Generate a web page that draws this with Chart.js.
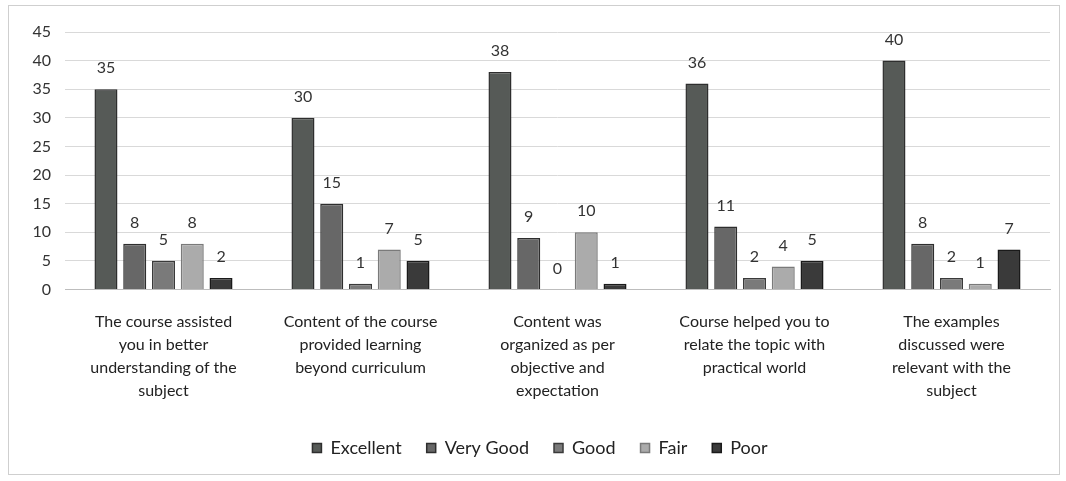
<!DOCTYPE html>
<html>
<head>
<meta charset="utf-8">
<script src="https://cdn.jsdelivr.net/npm/chart.js@4/dist/chart.umd.min.js"></script>
<style>
html,body{margin:0;padding:0;background:#fff;}
#wrap{position:relative;width:1066px;height:481px;}
</style>
</head>
<body>
<div id="wrap"><canvas id="c" width="1066" height="481"></canvas></div>
<script>
const categories = [
  ["The course assisted","you in better","understanding of the","subject"],
  ["Content of the course","provided learning","beyond curriculum"],
  ["Content was","organized as per","objective and","expectation"],
  ["Course helped you to","relate the topic with","practical world"],
  ["The examples","discussed were","relevant with the","subject"]
];
const seriesNames = ["Excellent","Very Good","Good","Fair","Poor"];
const excellent = [35, 30, 38, 36, 40];
const veryGood  = [8, 15, 9, 11, 8];
const good      = [5, 1, 0, 2, 2];
const fair      = [8, 7, 10, 4, 1];
const poor      = [2, 5, 1, 5, 7];
const yTicks = [0,5,10,15,20,25,30,35,40,45];

const fills   = ["#565a57","#676767","#7a7a7a","#ababab","#3a3a3a"];
const borders = ["#2e2e2e","#2e2e2e","#3a3a3a","#7a7a7a","#1a1a1a"];
const values = [excellent, veryGood, good, fair, poor];

const FONT = "Lato, 'Open Sans', sans-serif";

const frame = {
  id:'frame',
  beforeDraw(chart){
    const ctx = chart.ctx;
    ctx.save();
    ctx.fillStyle = '#fff';
    ctx.fillRect(0,0,chart.width,chart.height);
    ctx.strokeStyle = '#cfcfcf';
    ctx.lineWidth = 1;
    ctx.strokeRect(8.5,5.5,1051,469);
    ctx.restore();
  }
};

const valueLabels = {
  id:'valueLabels',
  afterDatasetsDraw(chart){
    const ctx = chart.ctx;
    ctx.save();
    ctx.font = "16px " + FONT;
    ctx.fillStyle = '#333';
    ctx.textAlign = 'center';
    ctx.textBaseline = 'bottom';
    chart.data.datasets.forEach((ds, i) => {
      const meta = chart.getDatasetMeta(i);
      meta.data.forEach((bar, j) => {
        ctx.fillText(String(ds.data[j]), bar.x, bar.y - 13);
      });
    });
    ctx.restore();
  }
};

new Chart(document.getElementById('c'), {
  type: 'bar',
  data: {
    labels: categories,
    datasets: seriesNames.map((n, i) => ({
      label: n,
      data: values[i],
      backgroundColor: fills[i],
      borderColor: borders[i],
      borderWidth: 1.5,
      barPercentage: 0.8,
      categoryPercentage: 0.73
    }))
  },
  options: {
    responsive: false,
    animation: false,
    layout: { padding: { left: 30, right: 16, top: 32, bottom: 14 } },
    plugins: {
      legend: {
        position: 'bottom',
        labels: {
          font: { size: 18, family: FONT },
          color: '#222',
          boxWidth: 9,
          boxHeight: 9,
          padding: 25
        }
      },
      tooltip: { enabled: false }
    },
    scales: {
      x: {
        afterFit(scale){ scale.height = scale.height - 9; },
        grid: { display: false, drawTicks: false },
        border: { color: '#bdbdbd' },
        ticks: {
          font: { size: 16, family: FONT, lineHeight: 1.43 },
          color: '#222',
          maxRotation: 0,
          autoSkip: false,
          padding: 21
        }
      },
      y: {
        min: 0, max: 45,
        afterFit(scale){ scale.width = 35; },
        afterBuildTicks(scale){ scale.ticks = yTicks.map(v => ({value: v})); },
        grid: { color: '#d9d9d9', drawTicks: false },
        border: { display: false },
        ticks: {
          font: { size: 16, family: FONT },
          color: '#333',
          padding: 14
        }
      }
    }
  },
  plugins: [frame, valueLabels]
});
</script>
</body>
</html>
